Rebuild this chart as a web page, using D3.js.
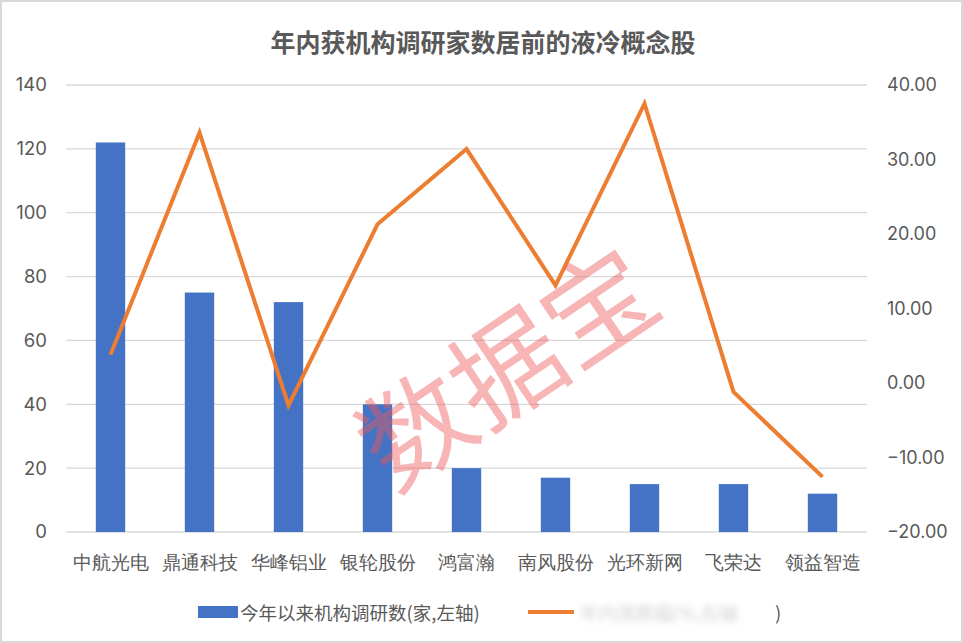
<!DOCTYPE html>
<html><head><meta charset="utf-8">
<script src="https://cdn.jsdelivr.net/npm/d3@7"></script>
<style>
html,body{margin:0;padding:0;background:#fff;}
svg{display:block;font-family:"Noto Sans CJK SC","Noto Sans",sans-serif;}
</style></head>
<body><svg id="c" width="963" height="643"></svg>
<script>
const categories = ["中航光电","鼎通科技","华峰铝业","银轮股份","鸿富瀚","南风股份","光环新网","飞荣达","领益智造"];
const researchCounts = [122, 75, 72, 40, 20, 17, 15, 15, 12];
const yearChange = [3.8, 33.6, -3.0, 21.3, 31.4, 13.1, 37.5, -1.2, -12.6];
const leftTicks = [0, 20, 40, 60, 80, 100, 120, 140];
const rightTicks = [-20, -10, 0, 10, 20, 30, 40];
const title = "年内获机构调研家数居前的液冷概念股";
const legendBar = "今年以来机构调研数(家,左轴)";
const legendLine = "年内涨跌幅(%,右轴)";

const svg = d3.select("#c");
const W = 963, H = 643;
const m = {left: 66, right: 96, top: 85, bottom: 111};
const x = d3.scaleBand().domain(categories).range([m.left, W - m.right]).paddingInner(0.67).paddingOuter(0.335);
const yL = d3.scaleLinear().domain([0, 140]).range([H - m.bottom, m.top]);
const yR = d3.scaleLinear().domain([-20, 40]).range([H - m.bottom, m.top]);
const textCol = "#595959";

svg.append("rect").attr("x", 1).attr("y", 1).attr("width", W - 2).attr("height", H - 2)
  .attr("fill", "#fff").attr("stroke", "#d9d9d9").attr("stroke-width", 2);

svg.append("text").attr("x", 483).attr("y", 52).attr("text-anchor", "middle")
  .attr("font-size", 25).attr("font-weight", "bold").attr("fill", textCol).text(title);

// gridlines
svg.append("g").selectAll("line").data(leftTicks).join("line")
  .attr("x1", m.left).attr("x2", W - m.right)
  .attr("y1", d => yL(d)).attr("y2", d => yL(d))
  .attr("stroke", "#d9d9d9").attr("stroke-width", 1.3);

// left axis
const gL = svg.append("g").attr("transform", `translate(${m.left},0)`)
  .call(d3.axisLeft(yL).tickValues(leftTicks).tickSize(0).tickPadding(19));
gL.select(".domain").remove();
gL.selectAll("text").attr("font-size", 18.5).attr("fill", textCol).attr("font-family", "Inter, 'Noto Sans', sans-serif");

// right axis
const gR = svg.append("g").attr("transform", `translate(${W - m.right},0)`)
  .call(d3.axisRight(yR).tickValues(rightTicks).tickSize(0).tickPadding(20).tickFormat(d3.format(".2f")));
gR.select(".domain").remove();
gR.selectAll("text").attr("font-size", 18).attr("fill", textCol).attr("font-family", "Inter, 'Noto Sans', sans-serif");

// bottom axis
const gB = svg.append("g").attr("transform", `translate(0,${H - m.bottom})`)
  .call(d3.axisBottom(x).tickSize(0).tickPadding(24));
gB.select(".domain").remove();
gB.selectAll("text").attr("font-size", 18.5).attr("fill", textCol);

// bars
svg.append("g").selectAll("rect").data(categories).join("rect")
  .attr("x", d => x(d)).attr("width", x.bandwidth())
  .attr("y", (d, i) => yL(researchCounts[i]))
  .attr("height", (d, i) => yL(0) - yL(researchCounts[i]))
  .attr("fill", "#4472C4");

// line
const line = d3.line().x((d, i) => x(categories[i]) + x.bandwidth() / 2).y(d => yR(d));
svg.append("path").datum(yearChange).attr("d", line)
  .attr("fill", "none").attr("stroke", "#ED7D31").attr("stroke-width", 4)
  .attr("stroke-linejoin", "miter");

// watermark
svg.append("text").attr("transform", "translate(503,362) rotate(-34)")
  .attr("text-anchor", "middle").attr("dominant-baseline", "central")
  .attr("font-size", 110).attr("font-weight", 400)
  .attr("fill", "rgb(238,90,90)").attr("fill-opacity", 0.45).text("数据宝");

// legend
const defs = svg.append("defs");
defs.append("filter").attr("id", "blur").append("feGaussianBlur").attr("stdDeviation", 3);
const ly = 612;
svg.append("rect").attr("x", 198).attr("y", ly - 6).attr("width", 40).attr("height", 12).attr("fill", "#4472C4");
svg.append("text").attr("x", 240).attr("y", ly).attr("dominant-baseline", "central")
  .attr("font-size", 18.5).attr("fill", textCol).text(legendBar);
svg.append("line").attr("x1", 528).attr("x2", 574).attr("y1", ly).attr("y2", ly)
  .attr("stroke", "#ED7D31").attr("stroke-width", 4);
svg.append("text").attr("x", 580).attr("y", ly).attr("dominant-baseline", "central")
  .attr("font-size", 18.5).attr("fill", "#d0d0d0").attr("filter", "url(#blur)").text(legendLine.slice(0, -1));
svg.append("text").attr("x", 775).attr("y", ly).attr("dominant-baseline", "central")
  .attr("font-size", 18.5).attr("fill", textCol).text(")");
</script></body></html>
